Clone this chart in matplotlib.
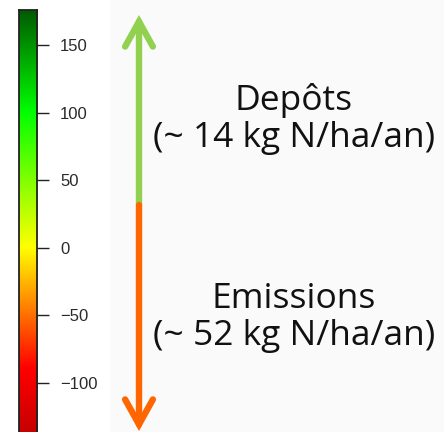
import numpy as np
import matplotlib
matplotlib.use("Agg")
import matplotlib.pyplot as plt
from matplotlib.colors import LinearSegmentedColormap
from matplotlib.patches import FancyArrowPatch, Rectangle

# ---- data ----
tick_values = [150, 100, 50, 0, -50, -100]
cbar_min, cbar_max = -176, 176
cmap_stops = [-176, -90, 0, 100, 176]
cmap_colors = ["#990000", "#ff0000", "#ffff00", "#00ff00", "#005a00"]
deposit_label = "Depôts"
deposit_value = 14
emission_label = "Emissions"
emission_value = 52
unit = "kg N/ha/an"

W, H = 444, 432
fig = plt.figure(figsize=(W / 100, H / 100), dpi=100)
fig.patch.set_facecolor("white")

# light-grey panel on the right
fig.patches.append(Rectangle((110 / W, 0), 1, 1, transform=fig.transFigure,
                             facecolor="#fafafa", edgecolor="none", zorder=0))

# ---- colour bar ----
px_per_unit = 1.35
top_px = 10
bottom_px = top_px + (cbar_max - cbar_min) * px_per_unit
cax = fig.add_axes([19 / W, 1 - bottom_px / H, 18 / W, (bottom_px - top_px) / H])
norm_pos = [(v - cbar_min) / (cbar_max - cbar_min) for v in cmap_stops]
cmap = LinearSegmentedColormap.from_list("dep", list(zip(norm_pos, cmap_colors)))
grad = np.linspace(cbar_min, cbar_max, 512).reshape(-1, 1)
cax.imshow(grad, aspect="auto", origin="lower", cmap=cmap,
           extent=[0, 1, cbar_min, cbar_max], vmin=cbar_min, vmax=cbar_max)
cax.set_xticks([])
cax.yaxis.tick_right()
cax.set_yticks(tick_values)
cax.set_yticklabels([f"{v}".replace("-", "\u2212") for v in tick_values],
                    family="Liberation Sans", fontsize=12, color="#2a2a2a")
cax.tick_params(axis="y", length=8.5, width=1.0, pad=8, color="#222222")
for s in cax.spines.values():
    s.set_linewidth(1.3)
    s.set_color("#222222")

# ---- arrow ----
x_arrow = 139 / W
y_split = 1 - 205 / H
y_top = 1 - 15 / H
y_bot = 1 - 431 / H
style = "->,head_length=0.9,head_width=0.5"
up = FancyArrowPatch((x_arrow, y_split), (x_arrow, y_top), transform=fig.transFigure,
                     arrowstyle=style, mutation_scale=20, lw=4.6, color="#92d050",
                     capstyle="round", joinstyle="miter", shrinkA=0, shrinkB=0)
down = FancyArrowPatch((x_arrow, y_split), (x_arrow, y_bot), transform=fig.transFigure,
                       arrowstyle=style, mutation_scale=20, lw=4.6, color="#ff6600",
                       capstyle="round", joinstyle="miter", shrinkA=0, shrinkB=0)
fig.patches.extend([up, down])

# ---- texts ----
tx = 294 / W
fs = 25.5
fam = "Open Sans"
fig.text(tx, 1 - 110 / H, deposit_label, ha="center", va="baseline",
         fontsize=fs, family=fam, color="#111111")
fig.text(tx, 1 - 147 / H, f"(~ {deposit_value} {unit})", ha="center", va="baseline",
         fontsize=fs, family=fam, color="#111111")
fig.text(tx, 1 - 308 / H, emission_label, ha="center", va="baseline",
         fontsize=fs, family=fam, color="#111111")
fig.text(tx, 1 - 345 / H, f"(~ {emission_value} {unit})", ha="center", va="baseline",
         fontsize=fs, family=fam, color="#111111")

fig.savefig("out.png", dpi=100)
